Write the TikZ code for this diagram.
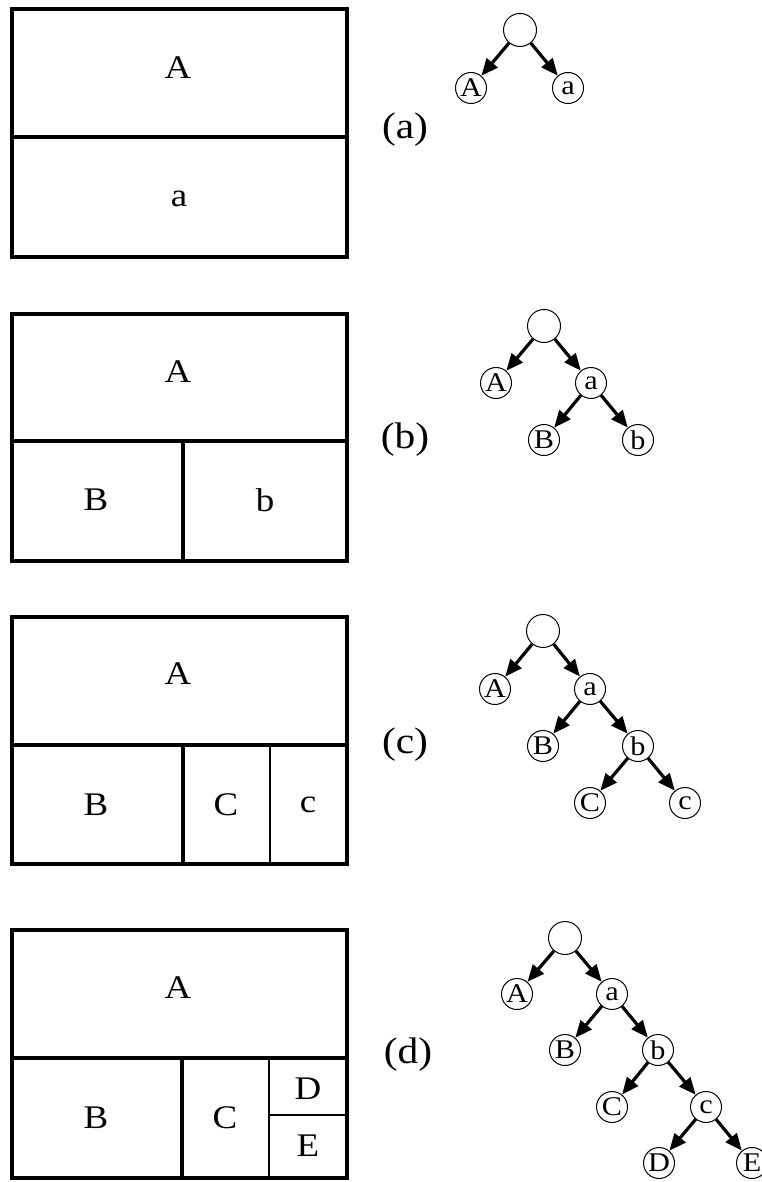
\documentclass[tikz,border=0pt]{standalone}
\usepackage{fontspec}
\setmainfont{Liberation Serif}[FakeStretch=1.12]
\usetikzlibrary{arrows.meta}
\begin{document}
\begin{tikzpicture}[x=1pt,y=-1pt,
  outer/.style={line width=3.4pt,line join=miter},
  split/.style={line width=3.2pt},
  thickcut/.style={line width=4.8pt},
  thincut/.style={line width=2.4pt},
  boxlabel/.style={font=\fontsize{33}{36}\selectfont,inner sep=0pt},
  caption/.style={font=\fontsize{37}{40}\selectfont,inner sep=0pt},
  tnode/.style={circle,draw,line width=1pt,minimum size=31pt,inner sep=0pt,
    font=\fontsize{27}{29}\selectfont},
  rnode/.style={circle,draw,line width=1pt,minimum size=33pt,inner sep=0pt},
  edge/.style={line width=3.2pt,-{Triangle[length=17pt,width=14pt]}}
]
\useasboundingbox (0,0) rectangle (761,1182);

% ---------- (a) ----------
\draw[outer] (12,9) rectangle (347,257);
\draw[split] (12,137) -- (347,137);
\node[boxlabel] (a-A) at (178,68) {A};
\node[boxlabel] (a-a) at (179,199) {a};
\node[caption] (cap-a) at (405,130) {(a)};

\begin{scope}[shift={(520,30)}]
  \node[rnode] (ta-r) at (0,0) {};
  \node[tnode] (ta-A) at (-49,58) {A};
  \node[tnode] (ta-a) at (48,58) {a};
\end{scope}
\draw[edge] (ta-r) -- (ta-A);
\draw[edge] (ta-r) -- (ta-a);

% ---------- (b) ----------
\draw[outer] (12,314) rectangle (347,561);
\draw[split] (12,441) -- (347,441);
\draw[thickcut] (183,441) -- (183,561);
\node[boxlabel] (b-A) at (178,372) {A};
\node[boxlabel] (b-B) at (96,500) {B};
\node[boxlabel] (b-b) at (265,500) {b};
\node[caption] (cap-b) at (405,440) {(b)};

\begin{scope}[shift={(544,326)}]
  \node[rnode] (tb-r) at (0,0) {};
  \node[tnode] (tb-A) at (-48,57) {A};
  \node[tnode] (tb-a) at (47,57) {a};
  \node[tnode] (tb-B) at (0,114) {B};
  \node[tnode] (tb-b) at (94,114) {b};
\end{scope}
\draw[edge] (tb-r) -- (tb-A);
\draw[edge] (tb-r) -- (tb-a);
\draw[edge] (tb-a) -- (tb-B);
\draw[edge] (tb-a) -- (tb-b);

% ---------- (c) ----------
\draw[outer] (12,617) rectangle (347,864);
\draw[split] (12,745) -- (347,745);
\draw[thickcut] (183,745) -- (183,864);
\draw[thincut] (270,745) -- (270,864);
\node[boxlabel] (c-A) at (178,674) {A};
\node[boxlabel] (c-B) at (96,805) {B};
\node[boxlabel] (c-C) at (226,805) {C};
\node[boxlabel] (c-c) at (308,805) {c};
\node[caption] (cap-c) at (405,745) {(c)};

\begin{scope}[shift={(543,631)}]
  \node[rnode] (tc-r) at (0,0) {};
  \node[tnode] (tc-A) at (-48,58) {A};
  \node[tnode] (tc-a) at (47,58) {a};
  \node[tnode] (tc-B) at (0,115) {B};
  \node[tnode] (tc-b) at (95,115) {b};
  \node[tnode] (tc-C) at (47,172) {C};
  \node[tnode] (tc-c) at (142,172) {c};
\end{scope}
\draw[edge] (tc-r) -- (tc-A);
\draw[edge] (tc-r) -- (tc-a);
\draw[edge] (tc-a) -- (tc-B);
\draw[edge] (tc-a) -- (tc-b);
\draw[edge] (tc-b) -- (tc-C);
\draw[edge] (tc-b) -- (tc-c);

% ---------- (d) ----------
\draw[outer] (12,930) rectangle (347,1178);
\draw[split] (12,1058) -- (347,1058);
\draw[thickcut] (182,1058) -- (182,1178);
\draw[thincut] (269,1058) -- (269,1178);
\draw[thincut] (269,1115) -- (347,1115);
\node[boxlabel] (d-A) at (178,988) {A};
\node[boxlabel] (d-B) at (96,1118) {B};
\node[boxlabel] (d-C) at (225,1118) {C};
\node[boxlabel] (d-D) at (308,1089) {D};
\node[boxlabel] (d-E) at (308,1146) {E};
\node[caption] (cap-d) at (408,1055) {(d)};

\begin{scope}[shift={(565,938)}]
  \node[rnode] (td-r) at (0,0) {};
  \node[tnode] (td-A) at (-48,56) {A};
  \node[tnode] (td-a) at (47,56) {a};
  \node[tnode] (td-B) at (0,112) {B};
  \node[tnode] (td-b) at (93,112) {b};
  \node[tnode] (td-C) at (47,169) {C};
  \node[tnode] (td-c) at (141,169) {c};
  \node[tnode] (td-D) at (94,225) {D};
  \node[tnode] (td-E) at (187,225) {E};
\end{scope}
\draw[edge] (td-r) -- (td-A);
\draw[edge] (td-r) -- (td-a);
\draw[edge] (td-a) -- (td-B);
\draw[edge] (td-a) -- (td-b);
\draw[edge] (td-b) -- (td-C);
\draw[edge] (td-b) -- (td-c);
\draw[edge] (td-c) -- (td-D);
\draw[edge] (td-c) -- (td-E);
\end{tikzpicture}
\end{document}
